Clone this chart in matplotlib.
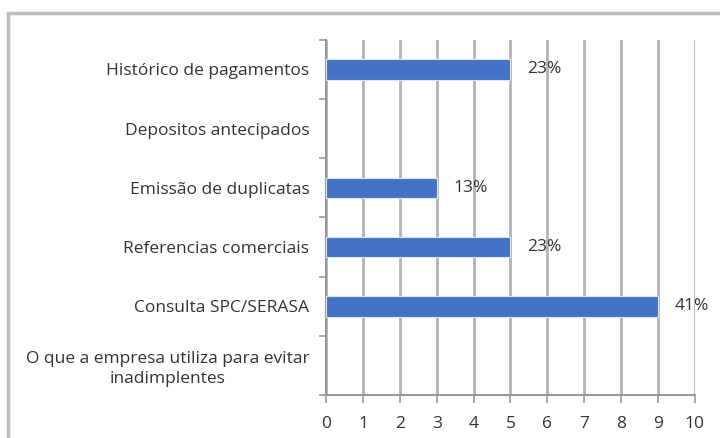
import matplotlib.pyplot as plt
import matplotlib.patches as patches

categories = ['O que a empresa utiliza para evitar\ninadimplentes',
              'Consulta SPC/SERASA',
              'Referencias comerciais',
              'Emissão de duplicatas',
              'Depositos antecipados',
              'Histórico de pagamentos']
values = [0, 9, 5, 3, 0, 5]
pct_labels = ['', '41%', '23%', '13%', '', '23%']
xticks = list(range(0, 11))

plt.rcParams['font.family'] = ['Open Sans', 'DejaVu Sans']
fs = 12.5
txt = '#333333'

fig = plt.figure(figsize=(7.2, 4.38), dpi=100)
fig.patches.append(patches.Rectangle((0.011, -0.05), 1.05, 1.02, transform=fig.transFigure,
                                     fill=False, edgecolor='#bdbdbd', linewidth=2.5))
ax = fig.add_axes([0.453, 0.098, 0.512, 0.811])

y = list(range(len(categories)))
ax.barh(y, values, height=0.35, color='#4472c4', edgecolor=['#dbe4f4' if v else 'none' for v in values],
        linewidth=0.8, zorder=3)
for yi, v, lab in zip(y, values, pct_labels):
    if lab:
        ax.text(v + 0.45, yi, lab, va='center', ha='left', fontsize=fs, color=txt)

ax.set_xlim(0, 10)
ax.set_ylim(-0.5, len(categories) - 0.5)
ax.set_xticks(xticks)
ax.set_yticks([i - 0.5 for i in range(len(categories) + 1)], minor=False)
ax.set_yticklabels([])
ax.set_yticks(y, minor=True)
ax.set_yticklabels(categories, minor=True, fontsize=fs, color=txt,
                   multialignment='center', linespacing=1.3)
ax.tick_params(axis='y', which='minor', length=0, pad=12)
ax.tick_params(axis='y', which='major', length=5, color='#999999', width=1.2)
ax.tick_params(axis='x', length=6, color='#999999', width=1.2, labelsize=fs, labelcolor=txt, pad=9)

ax.grid(axis='x', color='#b3b3b3', linewidth=2, zorder=0)
for s in ['top', 'right']:
    ax.spines[s].set_visible(False)
for s in ['left', 'bottom']:
    ax.spines[s].set_color('#999999')
    ax.spines[s].set_linewidth(1.5)

fig.savefig('out.png', dpi=100)
